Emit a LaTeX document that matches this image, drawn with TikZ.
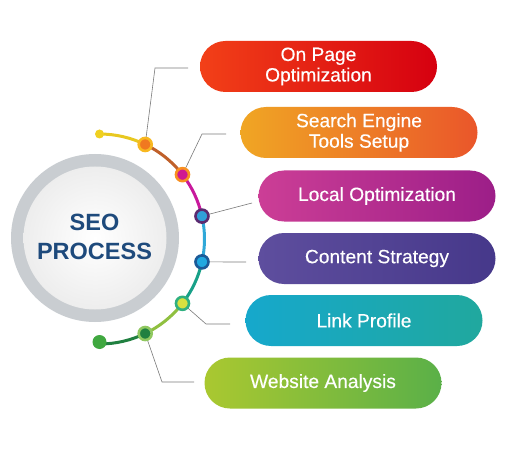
\documentclass[tikz,border=0pt]{standalone}
\usepackage{fontspec}
\setmainfont{Liberation Sans}
\newfontface\pillfont{Liberation Sans}[FakeBold=0.35]
\usetikzlibrary{calc}
\definecolor{seoblue}{HTML}{1E4A7C}
\definecolor{ringgray}{HTML}{C9CDD1}
\definecolor{conn}{HTML}{7A7A7A}
\tikzset{
  pill/.style={rectangle, rounded corners=25.5pt, minimum width=237pt, minimum height=51pt,
    inner sep=0pt, text=white, align=center, font=\pillfont\fontsize{19.2}{20.5}\selectfont},
  seg/.style={line width=3pt},
  connline/.style={draw=conn, line width=0.6pt},
  dotring/.style={circle, minimum size=13pt, inner sep=0pt, line width=2.6pt},
}
\begin{document}
\begin{tikzpicture}[x=1pt,y=-1pt]
\useasboundingbox (0,0) rectangle (527,473);
\fill[white] (0,0) rectangle (527,473);
% main circle
\fill[ringgray] (95,238) circle[radius=84pt];
\node[circle, minimum size=143pt, inner sep=0pt, inner color=white, outer color=gray!14] (main) at (95,238) {};
\node[text=seoblue, font=\bfseries\fontsize{23.5}{29}\selectfont, align=center] (title) at (94.5,236.5) {SEO\\PROCESS};
% arc
\coordinate (C) at (99.5,239);
\draw[seg, draw={rgb,255:red,232;green,200;blue,32}] ($(C)+(90:105pt)$) arc[start angle=90, end angle=64.2, radius=105pt];
\draw[seg, draw={rgb,255:red,192;green,96;blue,42}] ($(C)+(64.2:105pt)$) arc[start angle=64.2, end angle=37.8, radius=105pt];
\draw[seg, draw={rgb,255:red,200;green,24;blue,156}] ($(C)+(37.8:105pt)$) arc[start angle=37.8, end angle=12.6, radius=105pt];
\draw[seg, draw={rgb,255:red,48;green,168;blue,216}] ($(C)+(12.6:105pt)$) arc[start angle=12.6, end angle=-12.6, radius=105pt];
\draw[seg, draw={rgb,255:red,24;green,160;blue,136}] ($(C)+(-12.6:105pt)$) arc[start angle=-12.6, end angle=-37.8, radius=105pt];
\draw[seg, draw={rgb,255:red,144;green,192;blue,64}] ($(C)+(-37.8:105pt)$) arc[start angle=-37.8, end angle=-64.2, radius=105pt];
\draw[seg, draw={rgb,255:red,32;green,128;blue,64}] ($(C)+(-64.2:105pt)$) arc[start angle=-64.2, end angle=-90, radius=105pt];
% end dots
\node[circle, fill={rgb,255:red,240;green,208;blue,32}, minimum size=9pt, inner sep=0pt] (s0) at ($(C)+(90:105pt)$) {};
\node[circle, fill={rgb,255:red,64;green,168;blue,64}, minimum size=14pt, inner sep=0pt] (s7) at ($(C)+(-90:103pt)$) {};
% pills
\node[pill, left color={rgb,255:red,242;green,64;blue,24}, right color={rgb,255:red,214;green,0;blue,16}] (p1) at (318.5,66.5) {On Page\\Optimization};
\node[pill, left color={rgb,255:red,240;green,166;blue,36}, right color={rgb,255:red,234;green,86;blue,42}] (p2) at (359,132.5) {Search Engine\\Tools Setup};
\node[pill, left color={rgb,255:red,204;green,62;blue,150}, right color={rgb,255:red,156;green,30;blue,136}] (p3) at (377,196) {Local Optimization};
\node[pill, left color={rgb,255:red,94;green,78;blue,158}, right color={rgb,255:red,70;green,56;blue,138}] (p4) at (377,258.5) {Content Strategy};
\node[pill, left color={rgb,255:red,22;green,168;blue,204}, right color={rgb,255:red,32;green,168;blue,158}] (p5) at (364,320.5) {Link Profile};
\node[pill, left color={rgb,255:red,170;green,200;blue,48}, right color={rgb,255:red,90;green,176;blue,72}] (p6) at (323,383) {Website Analysis};
% connector endpoints
\coordinate (b1) at (155,68); \coordinate (e1) at (188,68);
\coordinate (b2) at (202,134); \coordinate (e2) at (226,134);
\coordinate (e3) at (252,203);
\coordinate (e4) at (246,262);
\coordinate (b5) at (206,324); \coordinate (e5) at (230,324);
\coordinate (b6) at (162,382); \coordinate (e6) at (194,382);
% dots
\path ($(C)+(64.2:105pt)$) coordinate (q1) ($(C)+(37.8:105pt)$) coordinate (q2)
      ($(C)+(12.6:105pt)$) coordinate (q3) ($(C)+(-12.6:105pt)$) coordinate (q4)
      ($(C)+(-37.8:105pt)$) coordinate (q5) ($(C)+(-64.2:105pt)$) coordinate (q6);
\draw[connline] (q1) -- (b1) -- (e1);
\draw[connline] (q2) -- (b2) -- (e2);
\draw[connline] (q3) -- (e3);
\draw[connline] (q4) -- (e4);
\draw[connline] (q5) -- (b5) -- (e5);
\draw[connline] (q6) -- (b6) -- (e6);
\node[dotring, draw={rgb,255:red,248;green,184;blue,32}, fill={rgb,255:red,240;green,120;blue,32}] (d1) at (q1) {};
\node[dotring, draw={rgb,255:red,248;green,144;blue,32}, fill={rgb,255:red,208;green,24;blue,144}] (d2) at (q2) {};
\node[dotring, draw={rgb,255:red,90;green,42;blue,112}, fill={rgb,255:red,48;green,160;blue,216}] (d3) at (q3) {};
\node[dotring, draw={rgb,255:red,26;green,90;blue,152}, fill={rgb,255:red,32;green,168;blue,224}] (d4) at (q4) {};
\node[dotring, draw={rgb,255:red,48;green,176;blue,128}, fill={rgb,255:red,216;green,224;blue,64}] (d5) at (q5) {};
\node[dotring, draw={rgb,255:red,144;green,200;blue,96}, fill={rgb,255:red,32;green,128;blue,64}] (d6) at (q6) {};
\end{tikzpicture}
\end{document}
